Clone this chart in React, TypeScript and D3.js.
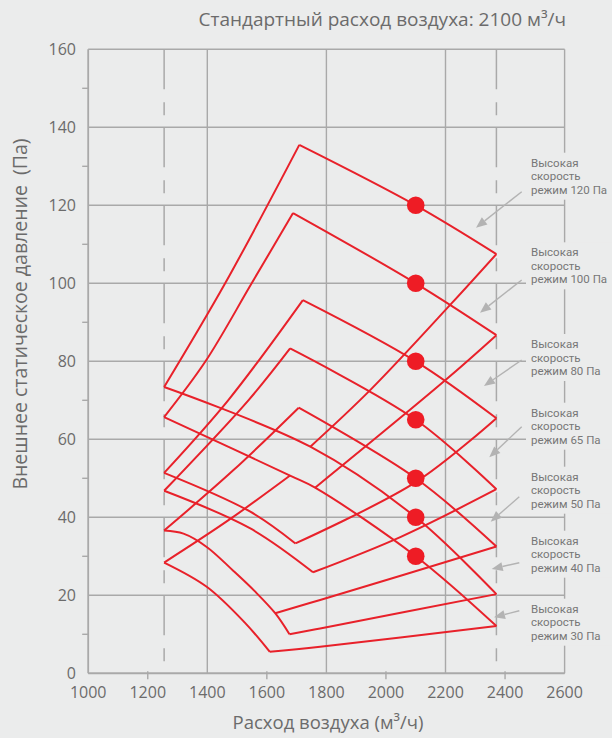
import React from "react";
import * as d3 from "d3";

const W = 612;
const H = 738;

// axis ticks
const xTicks = [1000, 1200, 1400, 1600, 1800, 2000, 2200, 2400, 2600];
const yTicks = [0, 20, 40, 60, 80, 100, 120, 140, 160];
const xGrid = [1400, 1800, 2200, 2600];
const xMinor = [1200, 1600, 2000, 2400];
const yMinor = [10, 30, 50, 70, 90, 110, 130, 150];
const limitFlows = [1255, 2371];

// modes / nominal points
const modeLabels = ["120", "100", "80", "65", "50", "40", "30"];
const dotFlow = 2100;
const dotPressures = [120, 100, 80, 65, 50, 40, 30];

// upper-right edges (through nominal points)
const fan120 = [[1709, 135.5], [2100, 120], [2371, 107.5]];
const fan100 = [[1688, 118], [2100, 100], [2371, 86.7]];
const fan80 = [[1721, 95.7], [2100, 80], [2371, 65.4]];
const fan65 = [[1678, 83.3], [2100, 65], [2371, 47.2]];
const fan50 = [[1707, 68.1], [2100, 50], [2371, 32.5]];
const fan40 = [[1255, 73.4], [1746, 58.1], [2100, 40], [2371, 20.3]];
const fan30 = [[1255, 65.7], [1678, 50.7], [1762, 47.6], [2100, 30], [2371, 12.1]];

// left rising edges
const left120 = [[1255, 73.4], [1460, 100], [1709, 135.5]];
const left100 = [[1255, 65.7], [1394, 80], [1549, 100], [1688, 118]];
const left80 = [[1255, 51.4], [1470, 70], [1721, 95.7]];
const left65 = [[1255, 46.8], [1538, 70], [1678, 83.3]];
const left50 = [[1255, 36.6], [1488, 52.1], [1707, 68.1]];
const left30 = [[1255, 28.4], [1470, 39.2], [1678, 50.7]];

// lower-left falling edges
const low80 = [[1255, 51.4], [1543, 41.5], [1696, 33.3]];
const low65 = [[1255, 46.8], [1543, 37.2], [1755, 25.9]];
const low50 = [[1255, 36.6], [1320, 35.8], [1398, 32.4], [1487, 26.3], [1560, 21], [1628, 15.4], [1676, 10]];
const low30 = [[1255, 28.4], [1398, 22.2], [1526, 13], [1610, 5.5]];

// bottom rising edges
const bot120 = [[1746, 58.1], [1947, 72.6], [2221, 94.9], [2371, 107.5]];
const bot100 = [[1762, 47.6], [2200, 75.2], [2371, 86.7]];
const bot80 = [[1696, 33.3], [2100, 49], [2371, 65.4]];
const bot65 = [[1755, 25.9], [2050, 35], [2371, 47.2]];
const bot50 = [[1628, 15.4], [1779, 18.8], [2371, 32.5]];
const bot40 = [[1676, 10], [1779, 11.5], [2371, 20.3]];
const bot30 = [[1610, 5.5], [1779, 6.8], [2371, 12.1]];

const curves = [
  fan120, fan100, fan80, fan65, fan50, fan40, fan30,
  left120, left100, left80, left65, left50, left30,
  low80, low65, low50, low30,
  bot120, bot100, bot80, bot65, bot50, bot40, bot30,
];

const textTitle = "Стандартный расход воздуха: 2100 м³/ч";
const xTitle = "Расход воздуха (м³/ч)";
const yTitle = "Внешнее статическое давление  (Па)";
const annotLines = ["Высокая", "скорость"];

// annotation layout (pixels)
const annotLayout = [
  { y: 162.7, ax: 521.7, ay: 191.7, tx: 476, ty: 227.7 },
  { y: 252.3, ax: 521.7, ay: 280, tx: 480, ty: 312.7 },
  { y: 344, ax: 521.7, ay: 360, tx: 484, ty: 386 },
  { y: 412.7, ax: 521.7, ay: 426.7, tx: 489.3, ty: 457.3 },
  { y: 476.7, ax: 519.3, ay: 496.7, tx: 490.7, ty: 521.7 },
  { y: 540.7, ax: 519.3, ay: 562.7, tx: 491.7, ty: 569 },
  { y: 608.7, ax: 519.3, ay: 610.7, tx: 494, ty: 617.3 },
];

const BG = "#ebecec";
const GRID = "#a9a9a9";
const RED = "#e8212a";
const TXT = "#6b6b6b";
const FONT = "'Open Sans', 'Noto Sans', sans-serif";

export default function App() {
  const x = d3.scaleLinear().domain([1000, 2600]).range([88.2, 564.6]);
  const y = d3.scaleLinear().domain([0, 160]).range([673.3, 49.3]);
  const line = d3
    .line<number[]>()
    .x((d) => x(d[0]))
    .y((d) => y(d[1]))
    .curve(d3.curveCatmullRom.alpha(0.5));

  const x0 = x(1000);
  const x1 = x(2600);
  const y0 = y(0);
  const y1 = y(160);
  const lh = 13.5;

  return (
    <svg
      width={W}
      height={H}
      style={{ position: "absolute", left: 0, top: 0, display: "block" }}
      fontFamily={FONT}
    >
      <rect x={0} y={0} width={W} height={H} fill={BG} />

      {yTicks.map((t) => (
        <line key={"hg" + t} x1={x0} x2={x1} y1={y(t)} y2={y(t)} stroke={GRID} strokeWidth={1.4} />
      ))}
      {xGrid.map((t) => (
        <line key={"vg" + t} x1={x(t)} x2={x(t)} y1={y1} y2={y0} stroke={GRID} strokeWidth={1.4} />
      ))}
      {limitFlows.map((t) => (
        <line
          key={"lim" + t}
          x1={x(t)}
          x2={x(t)}
          y1={y1}
          y2={y0}
          stroke={GRID}
          strokeWidth={1.5}
          strokeDasharray="40 13 13 12"
        />
      ))}
      <line x1={x0} x2={x0} y1={y1} y2={y0} stroke={GRID} strokeWidth={1.8} />
      <line x1={x0} x2={x1} y1={y0} y2={y0} stroke={GRID} strokeWidth={1.8} />
      {yMinor.map((t) => (
        <line key={"ym" + t} x1={x0 - 6} x2={x0} y1={y(t)} y2={y(t)} stroke={GRID} strokeWidth={1.4} />
      ))}
      {xMinor.map((t) => (
        <line key={"xm" + t} x1={x(t)} x2={x(t)} y1={y0 - 2} y2={y0 + 6} stroke={GRID} strokeWidth={1.4} />
      ))}

      {yTicks.map((t) => (
        <text key={"yl" + t} x={76} y={y(t)} dy="0.35em" textAnchor="end" fontSize={16} fill={TXT}>
          {t}
        </text>
      ))}
      {xTicks.map((t) => (
        <text key={"xl" + t} x={x(t)} y={698} textAnchor="middle" fontSize={16} fill={TXT}>
          {t}
        </text>
      ))}

      <text x={566} y={26} textAnchor="end" fontSize={19} fill={TXT}>
        {textTitle}
      </text>
      <text x={328} y={729} textAnchor="middle" fontSize={18.5} fill={TXT}>
        {xTitle}
      </text>
      <text
        transform={`translate(27, 314) rotate(-90)`}
        textAnchor="middle"
        fontSize={19.5}
        fill={TXT}
        style={{ whiteSpace: "pre" }}
      >
        {yTitle}
      </text>

      {curves.map((c, i) => (
        <path key={"c" + i} d={line(c) || ""} fill="none" stroke={RED} strokeWidth={2} />
      ))}
      {dotPressures.map((p, i) => (
        <circle key={"d" + i} cx={x(dotFlow)} cy={y(p)} r={8.8} fill="#ee1c25" />
      ))}

      {annotLayout.map((a, i) => {
        const ang = Math.atan2(a.ty - a.ay, a.tx - a.ax);
        const L = 11;
        const hw = 4.5;
        const bx = a.tx - L * Math.cos(ang);
        const by = a.ty - L * Math.sin(ang);
        const px = -Math.sin(ang) * hw;
        const py = Math.cos(ang) * hw;
        const lines = [annotLines[0], annotLines[1], `режим ${modeLabels[i]} Па`];
        return (
          <g key={"a" + i}>
            <rect x={526} y={a.y - 10} width={86} height={lh * 2 + 20} fill={BG} />
            <line x1={a.ax} y1={a.ay} x2={bx} y2={by} stroke="#b3b3b3" strokeWidth={1.4} />
            <path d={`M${a.tx},${a.ty}L${bx + px},${by + py}L${bx - px},${by - py}Z`} fill="#b3b3b3" />
            {lines.map((s, j) => (
              <text
                key={j}
                x={531}
                y={a.y + j * lh}
                dy="0.35em"
                fontSize={11.5}
                fontFamily="Roboto, 'Liberation Sans', sans-serif"
                fill="#777"
              >
                {s}
              </text>
            ))}
          </g>
        );
      })}
    </svg>
  );
}
